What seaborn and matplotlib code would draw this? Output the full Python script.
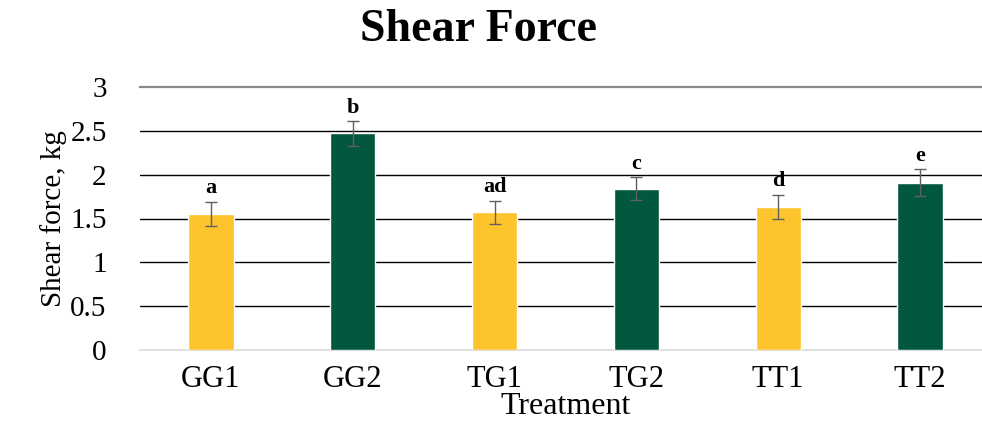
import pandas as pd
import matplotlib.pyplot as plt
import seaborn as sns

# data
treatments = ["GG1", "GG2", "TG1", "TG2", "TT1", "TT2"]
shear_force = [1.55, 2.47, 1.57, 1.84, 1.63, 1.91]
sd = [0.14, 0.14, 0.13, 0.13, 0.14, 0.15]
letters = ["a", "b", "ad", "c", "d", "e"]

yellow = "#FEC42D"
green = "#02573F"
bar_colors = [yellow, green, yellow, green, yellow, green]

df = pd.DataFrame({"Treatment": treatments, "Shear": shear_force, "SD": sd})

sns.set_style("white")
plt.rcParams["font.family"] = ["Liberation Serif", "DejaVu Serif"]
plt.rcParams["text.color"] = "black"
plt.rcParams["axes.labelcolor"] = "black"
plt.rcParams["xtick.color"] = "black"
plt.rcParams["ytick.color"] = "black"

fig = plt.figure(figsize=(9.82, 4.26), dpi=100)
ax = fig.add_axes([140 / 982, 1 - 350 / 426, 851 / 982, 263 / 426])

sns.barplot(data=df, x="Treatment", y="Shear", hue="Treatment",
            palette=bar_colors, width=0.32, legend=False, ax=ax,
            saturation=1, zorder=3)
ax.errorbar(range(len(treatments)), df["Shear"], yerr=df["SD"], fmt="none",
            ecolor="#606060", elinewidth=1, capsize=4, capthick=1, zorder=4)

# significance letters
for i, (v, e, lab) in enumerate(zip(shear_force, sd, letters)):
    ax.text(i, v + e + 0.04, lab, ha="center", va="bottom",
            fontsize=16, fontweight="bold")

ax.set_ylim(0, 3)
ax.set_xlim(-0.5, 5.5)
ax.set_yticks([0, 0.5, 1, 1.5, 2, 2.5, 3])
ax.set_yticklabels(["0", "0.5", "1", "1.5", "2", "2.5", "3"])
for y in [0.5, 1, 1.5, 2, 2.5]:
    ax.axhline(y, color="black", lw=1, zorder=1)

for s in ["left", "right"]:
    ax.spines[s].set_visible(False)
ax.spines["top"].set_color("#8a8a8a")
ax.spines["top"].set_linewidth(1.6)
ax.spines["bottom"].set_color("#d9d9d9")
ax.spines["bottom"].set_linewidth(1.2)

ax.tick_params(axis="y", length=0, pad=24, labelsize=21)
ax.tick_params(axis="x", length=0, pad=11, labelsize=22)
ax.set_xlabel("Treatment", fontsize=23, labelpad=-2)
ax.set_ylabel("Shear force, kg", fontsize=21, labelpad=2)

fig.text(479 / 982, 1 - 30 / 426, "Shear Force", ha="center", va="center",
         fontsize=33, fontweight="bold")

plt.savefig("out.png", dpi=100)
plt.close()
